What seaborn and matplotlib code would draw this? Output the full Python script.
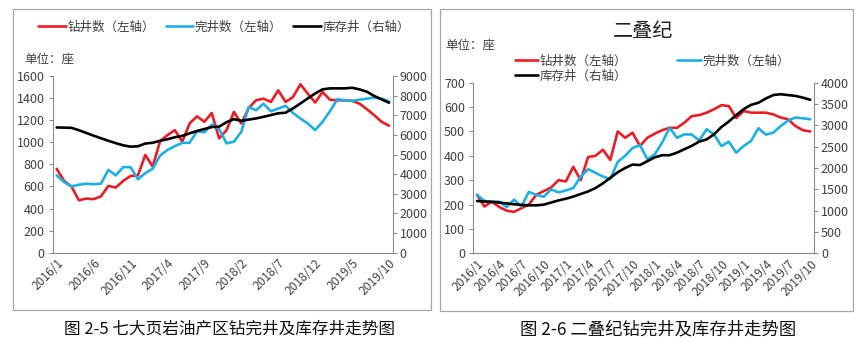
import numpy as np
import matplotlib
matplotlib.use("Agg")
import matplotlib.pyplot as plt
from matplotlib.patches import Rectangle
import seaborn as sns

# ---------------- data ----------------
# 46 months: 2016/1 .. 2019/10
left_ticklabels = ["2016/1", "2016/6", "2016/11", "2017/4", "2017/9",
                   "2018/2", "2018/7", "2018/12", "2019/5", "2019/10"]
right_ticklabels = ["2016/1", "2016/4", "2016/7", "2016/10", "2017/1", "2017/4",
                    "2017/7", "2017/10", "2018/1", "2018/4", "2018/7", "2018/10",
                    "2019/1", "2019/4", "2019/7", "2019/10"]

# 七大页岩油产区
drilled_L = [760, 650, 600, 475, 490, 485, 510, 605, 590, 650, 695, 700, 885, 780, 1010,
             1065, 1110, 1005, 1170, 1235, 1185, 1265, 1035, 1110, 1275, 1170, 1310, 1380,
             1395, 1365, 1470, 1365, 1410, 1525, 1440, 1360, 1455, 1385, 1380, 1380, 1375,
             1350, 1300, 1245, 1185, 1150]
completed_L = [700, 640, 600, 615, 625, 620, 625, 750, 700, 775, 775, 665, 720, 760, 880,
               930, 965, 995, 995, 1100, 1090, 1160, 1120, 990, 1005, 1095, 1320, 1290,
               1350, 1280, 1305, 1330, 1265, 1215, 1170, 1110, 1185, 1280, 1390, 1380, 1375,
               1385, 1395, 1405, 1395, 1370]
duc_L = [6380, 6370, 6360, 6240, 6100, 5960, 5830, 5700, 5580, 5470, 5400, 5420, 5560, 5600,
         5700, 5780, 5880, 5950, 6080, 6200, 6300, 6400, 6420, 6650, 6800, 6720, 6780, 6840,
         6920, 7010, 7100, 7130, 7350, 7600, 7860, 8110, 8320, 8370, 8370, 8370, 8400, 8320,
         8200, 7980, 7810, 7640]

# 二叠纪
drilled_R = [240, 192, 212, 190, 175, 170, 185, 200, 240, 255, 270, 300, 295, 355, 300, 395,
             400, 425, 383, 500, 474, 495, 440, 474, 491, 505, 515, 515, 536, 563, 567, 577,
             591, 608, 604, 555, 584, 577, 577, 577, 570, 557, 550, 522, 505, 500]
completed_R = [240, 215, 212, 212, 190, 220, 192, 252, 240, 232, 262, 250, 258, 268, 315, 345,
               330, 315, 305, 375, 400, 432, 444, 386, 406, 454, 515, 474, 488, 487, 463, 509,
               488, 440, 458, 413, 440, 461, 513, 487, 495, 522, 545, 557, 554, 550]
duc_R = [1225, 1215, 1205, 1190, 1170, 1150, 1135, 1125, 1125, 1140, 1190, 1240, 1280, 1330,
         1390, 1450, 1530, 1640, 1770, 1900, 2000, 2080, 2070, 2160, 2250, 2300, 2300, 2360,
         2440, 2520, 2620, 2670, 2790, 2960, 3090, 3240, 3380, 3480, 3530, 3630, 3710, 3730,
         3710, 3690, 3650, 3600]

series_names = ["钻井数（左轴）", "完井数（左轴）", "库存井（右轴）"]
unit_text = "单位：座"
title_R = "二叠纪"
caption_L = "图 2-5 七大页岩油产区钻完井及库存井走势图"
caption_R = "图 2-6 二叠纪钻完井及库存井走势图"

# ---------------- style ----------------
sns.set_style("white")
plt.rcParams["font.family"] = ["Noto Sans CJK SC", "DejaVu Sans"]

RED = "#ec1c24"
BLUE = "#1cb0e4"
BLACK = "#000000"
AXC = "#8c8c8c"
TXC = "#404040"
LW = 1.9

W, H = 859, 339
fig = plt.figure(figsize=(W / 100, H / 100), dpi=100)


def fx(px):
    return px / W


def fy(py):
    return 1 - py / H


def style_axes(ax, axr, ymax, ystep, rmax, rstep, ticklabels, step):
    n = len(drilled_L)
    ax.set_xlim(-0.5, n - 0.5)
    ax.set_ylim(0, ymax)
    axr.set_ylim(0, rmax)
    ax.set_yticks(np.arange(0, ymax + 1, ystep))
    axr.set_yticks(np.arange(0, rmax + 1, rstep))
    ax.set_xticks(np.arange(-0.5, n - 0.5, step))
    ax.set_xticklabels([])
    ax.set_xticks(np.arange(0, n, step), ticklabels, minor=True)
    ax.tick_params(axis="x", which="minor", length=0, pad=3, labelsize=8.7,
                   labelcolor=TXC, rotation=45)
    for lab in ax.get_xticklabels(minor=True):
        lab.set_ha("right")
        lab.set_va("top")
        lab.set_rotation_mode("anchor")
    ax.tick_params(axis="x", which="major", length=3, color=AXC, direction="out")
    ax.tick_params(axis="y", length=3, color=AXC, direction="out", labelsize=9,
                   labelcolor=TXC, pad=3)
    axr.tick_params(axis="y", length=3, color=AXC, direction="out", labelsize=9,
                    labelcolor=TXC, pad=2)
    for s in ["top", "right"]:
        ax.spines[s].set_visible(False)
    for s in ["left", "bottom"]:
        ax.spines[s].set_color(AXC)
        ax.spines[s].set_linewidth(0.8)
    for s in ["top", "left", "bottom"]:
        axr.spines[s].set_visible(False)
    axr.spines["right"].set_color(AXC)
    axr.spines["right"].set_linewidth(0.8)
    ax.set_xlabel("")
    ax.set_ylabel("")
    axr.set_ylabel("")
    ax.grid(False)
    axr.grid(False)


idx = np.arange(len(drilled_L))

# ---------------- left panel ----------------
ax1 = fig.add_axes([fx(53), fy(252.7), fx(392.7) - fx(53), (252.7 - 76) / H])
ax1r = ax1.twinx()
sns.lineplot(x=idx, y=drilled_L, ax=ax1, color=RED, lw=LW)
sns.lineplot(x=idx, y=completed_L, ax=ax1, color=BLUE, lw=LW)
sns.lineplot(x=idx, y=duc_L, ax=ax1r, color=BLACK, lw=LW)
style_axes(ax1, ax1r, 1600, 200, 9000, 1000, left_ticklabels, 5)

h1 = [ax1.lines[0], ax1.lines[1], ax1r.lines[0]]
fig.legend(h1, series_names, loc="center", bbox_to_anchor=(fx(224), fy(27)),
           ncol=3, frameon=False, handlelength=2.2, handletextpad=0.1,
           columnspacing=0.9, fontsize=9, labelcolor=TXC)
fig.text(fx(24), fy(59), unit_text, ha="left", va="center", fontsize=9, color=TXC)

# ---------------- right panel ----------------
ax2 = fig.add_axes([fx(473.3), fy(253.3), fx(814) - fx(473.3), (253.3 - 82.7) / H])
ax2r = ax2.twinx()
sns.lineplot(x=idx, y=drilled_R, ax=ax2, color=RED, lw=LW)
sns.lineplot(x=idx, y=completed_R, ax=ax2, color=BLUE, lw=LW)
sns.lineplot(x=idx, y=duc_R, ax=ax2r, color=BLACK, lw=LW)
style_axes(ax2, ax2r, 700, 100, 4000, 500, right_ticklabels, 3)

h2 = [ax2.lines[0], ax2r.lines[0], ax2.lines[1]]
fig.legend(h2, [series_names[0], series_names[2], series_names[1]], loc="center",
           bbox_to_anchor=(fx(652), fy(68.5)), ncol=2, frameon=False,
           handlelength=1.9, handletextpad=0.1, columnspacing=4.0,
           labelspacing=0.15, fontsize=9, labelcolor=TXC)
fig.text(fx(445), fy(45), unit_text, ha="left", va="center", fontsize=9, color=TXC)
fig.text(fx(643), fy(31), title_R, ha="center", va="center", fontsize=14.5, color="#222222")

# ---------------- panel frames & captions ----------------
fig.patches.append(Rectangle((fx(13), fy(310)), fx(431) - fx(13), (310 - 9) / H,
                             transform=fig.transFigure, fill=False, ec="#a6a6a6", lw=0.9))
fig.patches.append(Rectangle((fx(440), fy(311)), fx(853) - fx(440), (311 - 9) / H,
                             transform=fig.transFigure, fill=False, ec="#a6a6a6", lw=0.9))
fig.text(fx(230), fy(329), caption_L, ha="center", va="center", fontsize=12, color="#111111")
fig.text(fx(658), fy(329), caption_R, ha="center", va="center", fontsize=12.5, color="#111111")

fig.savefig("out.png", dpi=100)
